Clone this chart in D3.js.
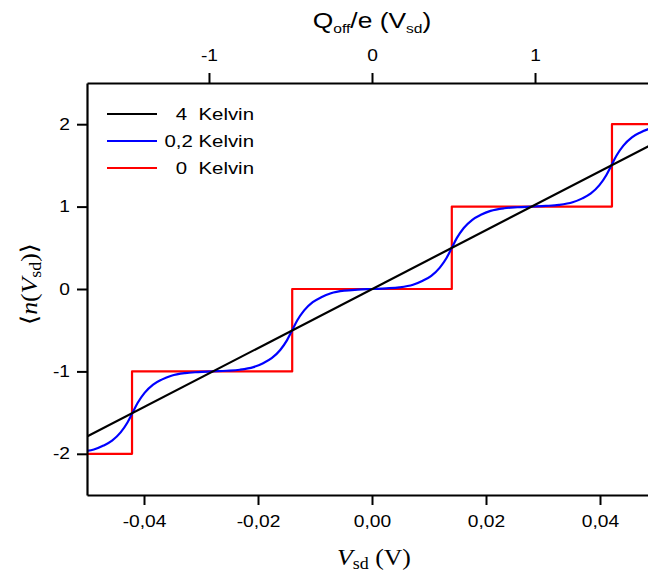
<!DOCTYPE html>
<html>
<head>
<meta charset="utf-8">
<script src="https://cdn.jsdelivr.net/npm/d3@7"></script>
<style>
  html, body { margin: 0; padding: 0; background: #fff; }
  svg { display: block; }
</style>
</head>
<body>
<svg id="chart" width="648" height="573"></svg>
<script>
// ---------- data ----------
const xTickValues = [-0.04, -0.02, 0.00, 0.02, 0.04];
const yTickValues = [-2, -1, 0, 1, 2];
const topTickValues = [-1, 0, 1];
const voltsPerCharge = 0.0286;   // top axis: Q_off/e = Vsd / 0.0286

// 4 Kelvin: straight line
const k4V = [-0.05, 0.0487];
const k4N = [-1.79, 1.74];

// 0 Kelvin: staircase
const k0V = [-0.05, -0.0421, -0.0421, -0.0140, -0.0140, 0.0140, 0.0140, 0.0421, 0.0421, 0.0487];
const k0N = [-2, -2, -1, -1, 0, 0, 1, 1, 2, 2];

// 0,2 Kelvin: smoothed staircase
const k02V = [-0.0500, -0.0488, -0.0471, -0.0456, -0.0441, -0.0429, -0.0420, -0.0411, -0.0399, -0.0384,
              -0.0369, -0.0352, -0.0328, -0.0305, -0.0280, -0.0255, -0.0232, -0.0208, -0.0191, -0.0176,
              -0.0161, -0.0149, -0.0140, -0.0131, -0.0119, -0.0104, -0.0089, -0.0072, -0.0048, -0.0025,
               0.0000,  0.0025,  0.0048,  0.0072,  0.0089,  0.0104,  0.0119,  0.0131,  0.0140,  0.0149,
               0.0161,  0.0176,  0.0191,  0.0208,  0.0232,  0.0255,  0.0280,  0.0305,  0.0328,  0.0352,
               0.0369,  0.0384,  0.0399,  0.0411,  0.0420,  0.0429,  0.0441,  0.0456,  0.0471,  0.0488];
const k02N = [-1.965, -1.948, -1.900, -1.840, -1.740, -1.620, -1.500, -1.380, -1.260, -1.160,
              -1.100, -1.052, -1.020, -1.008, -1.000, -0.992, -0.980, -0.948, -0.900, -0.840,
              -0.740, -0.620, -0.500, -0.380, -0.260, -0.160, -0.100, -0.052, -0.020, -0.008,
               0.000,  0.008,  0.020,  0.052,  0.100,  0.160,  0.260,  0.380,  0.500,  0.620,
               0.740,  0.840,  0.900,  0.948,  0.980,  0.992,  1.000,  1.008,  1.020,  1.052,
               1.100,  1.160,  1.260,  1.380,  1.500,  1.620,  1.740,  1.840,  1.900,  1.948];

const legendLabels = ["4  Kelvin", "0,2 Kelvin", "0  Kelvin"];
const legendColors = ["#000000", "#0000ff", "#ff0000"];

// ---------- layout ----------
const svg = d3.select("#chart");
const L = 87, T = 83, B = 495, R = 657;
const SX = 1.2;
const sans = "'Liberation Sans', Arial, sans-serif";
const serif = "'Liberation Serif', 'DejaVu Serif', serif";

const x = d3.scaleLinear().domain([-0.05, 0.05]).range([L, R]);
const y = d3.scaleLinear().domain([-2.5, 2.5]).range([B, T]);
const xTop = d3.scaleLinear().domain([-0.05 / voltsPerCharge, 0.05 / voltsPerCharge]).range([L, R]);

const fmt = d3.format(".2f");
const hyph = s => s.replace(/\u2212/g, "-");
const comma = v => hyph(fmt(v)).replace(".", ",").replace("-0,00", "0,00");
const intFmt = v => hyph(d3.format("d")(v));

svg.append("defs").append("clipPath").attr("id", "plotclip")
  .append("rect").attr("x", L).attr("y", T).attr("width", R - L).attr("height", B - T);

// ---------- curves ----------
const plot = svg.append("g").attr("clip-path", "url(#plotclip)");
function drawLine(vs, ns, color, curve) {
  const pts = vs.map((v, i) => [v, ns[i]]);
  plot.append("path")
    .datum(pts)
    .attr("fill", "none")
    .attr("stroke", color)
    .attr("stroke-width", 2.2)
    .attr("stroke-linejoin", "round")
    .attr("d", d3.line().x(d => x(d[0])).y(d => y(d[1])).curve(curve));
}
drawLine(k0V, k0N, "#ff0000", d3.curveLinear);
drawLine(k02V, k02N, "#0000ff", d3.curveMonotoneX);
drawLine(k4V, k4N, "#000000", d3.curveLinear);

// ---------- axes ----------
function styleAxis(g) {
  g.select(".domain").attr("stroke", "#000").attr("stroke-width", 2.2);
  g.selectAll(".tick line").attr("stroke", "#000").attr("stroke-width", 2);
  g.selectAll(".tick text").attr("fill", "#000").attr("font-family", sans).attr("font-size", 16);
}

const gx = svg.append("g").attr("transform", `translate(0,${B})`)
  .call(d3.axisBottom(x).tickValues(xTickValues).tickFormat(comma).tickSize(10).tickSizeOuter(0).tickPadding(11));
styleAxis(gx);
gx.selectAll(".tick text").attr("transform", `scale(${SX},1)`);

const gy = svg.append("g").attr("transform", `translate(${L},0)`)
  .call(d3.axisLeft(y).tickValues(yTickValues).tickFormat(intFmt).tickSize(10).tickSizeOuter(0));
styleAxis(gy);
gy.selectAll(".tick text").attr("x", -17 / SX).attr("transform", `scale(${SX},1)`);

const gt = svg.append("g").attr("transform", `translate(0,${T})`)
  .call(d3.axisTop(xTop).tickValues(topTickValues).tickFormat(intFmt).tickSize(10).tickSizeOuter(0).tickPadding(12));
styleAxis(gt);
gt.selectAll(".tick text").attr("transform", `scale(${SX},1)`);

// ---------- titles ----------
// top title: Q_off/e (V_sd)
const tt = svg.append("text")
  .attr("transform", `translate(372,28) scale(${SX},1)`)
  .attr("text-anchor", "middle")
  .attr("font-family", sans).attr("font-size", 22).attr("fill", "#000");
tt.append("tspan").text("Q");
tt.append("tspan").attr("font-size", 13).attr("dy", 5).text("off");
tt.append("tspan").attr("dy", -5).text("/e (V");
tt.append("tspan").attr("font-size", 13).attr("dy", 5).text("sd");
tt.append("tspan").attr("dy", -5).text(")");

// bottom title: V_sd (V)
const bt = svg.append("text")
  .attr("transform", `translate(374,565) scale(1.12,1)`)
  .attr("text-anchor", "middle")
  .attr("font-family", serif).attr("font-size", 23).attr("fill", "#000");
bt.append("tspan").attr("font-style", "italic").text("V");
bt.append("tspan").attr("font-size", 16).attr("dy", 4).text("sd");
bt.append("tspan").attr("dy", -4).text(" (V)");

// left title: <n(V_sd)>
const lt = svg.append("text")
  .attr("transform", `translate(37,284) rotate(-90) scale(1.12,1)`)
  .attr("text-anchor", "middle")
  .attr("font-family", serif).attr("font-size", 23).attr("fill", "#000");
lt.append("tspan").text("\u27E8");
lt.append("tspan").attr("font-style", "italic").text("n");
lt.append("tspan").text("(");
lt.append("tspan").attr("font-style", "italic").text("V");
lt.append("tspan").attr("font-size", 16).attr("dy", 4).text("sd");
lt.append("tspan").attr("dy", -4).text(")\u27E9");

// ---------- legend ----------
const legY = [114, 141, 168];
const leg = svg.append("g");
legendLabels.forEach((lab, i) => {
  leg.append("line")
    .attr("x1", 107).attr("x2", 157).attr("y1", legY[i]).attr("y2", legY[i])
    .attr("stroke", legendColors[i]).attr("stroke-width", 2.2);
  leg.append("text")
    .attr("transform", `translate(254,${legY[i] + 6}) scale(${SX},1)`)
    .attr("text-anchor", "end")
    .attr("xml:space", "preserve")
    .style("white-space", "pre")
    .attr("font-family", sans).attr("font-size", 17).attr("fill", "#000")
    .text(lab);
});
</script>
</body>
</html>
